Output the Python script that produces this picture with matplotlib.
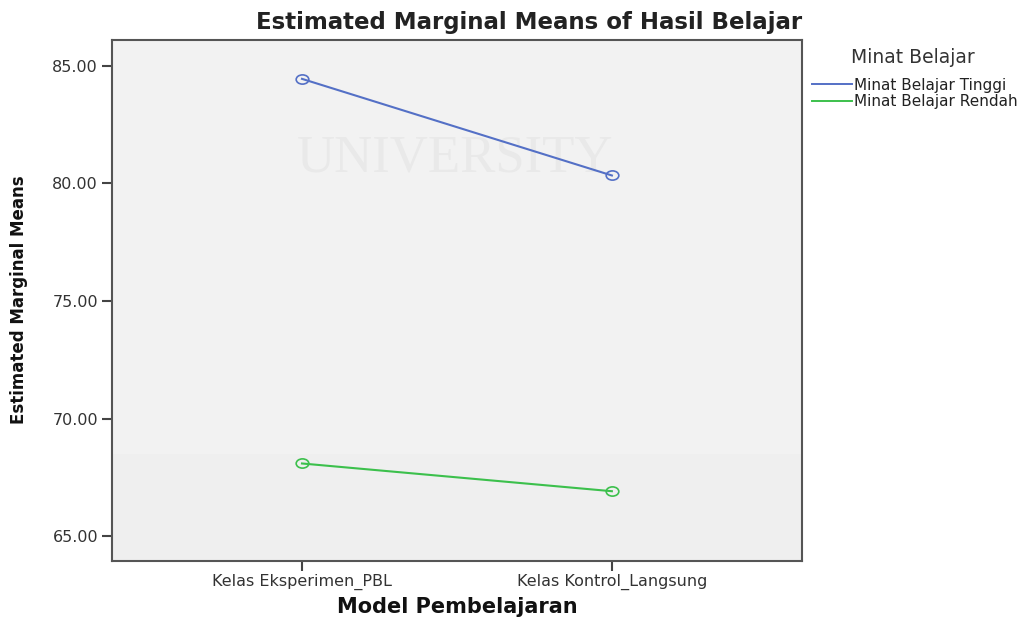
import matplotlib
matplotlib.use('Agg')
import matplotlib.pyplot as plt
from matplotlib.lines import Line2D
from matplotlib.markers import MarkerStyle
from matplotlib.transforms import Affine2D

plt.rcParams['font.family'] = ['DejaVu Sans']

# data
categories = ['Kelas Eksperimen_PBL', 'Kelas Kontrol_Langsung']
series_names = ['Minat Belajar Tinggi', 'Minat Belajar Rendah']
tinggi = [84.45, 80.34]
rendah = [68.09, 66.91]
y_ticks = [65, 70, 75, 80, 85]

colours = ['#5470c6', '#3cc04c']

fig = plt.figure(figsize=(10.22, 6.22), dpi=100)
ax = fig.add_axes([0.1096, 0.098, 0.675, 0.8376])
ax.set_facecolor('#f2f2f2')
ax.axhspan(60, 68.5, color='#efefef', lw=0, zorder=0)

# faint watermark from the source image, kept behind the lines
ax.text(0.445, 0.745, 'UNIVERSITY', fontsize=38, family='Liberation Serif',
        color='#e9e9e9', ha='center', va='center', zorder=0.5,
        transform=fig.transFigure)

oval = MarkerStyle('o', transform=Affine2D().scale(1.3, 0.95))
x = list(range(len(categories)))
for vals, name, c in zip([tinggi, rendah], series_names, colours):
    ax.plot(x, vals, color=c, lw=1.5, marker=oval, markersize=7,
            markerfacecolor='none', markeredgecolor=c, markeredgewidth=1.2,
            label=name, zorder=3)

ax.set_xlim(-0.613, 1.613)
ax.set_ylim(63.94, 86.1)
ax.set_xticks(x)
ax.set_xticklabels(categories, fontsize=11.5, color='#333333')
ax.set_yticks(y_ticks)
ax.set_yticklabels([f'{v:.2f}' for v in y_ticks], fontsize=11.5, color='#333333')
ax.tick_params(axis='both', direction='out', length=7, width=1.5, color='#444444', pad=3)
ax.tick_params(axis='x', pad=2)

for s in ax.spines.values():
    s.set_color('#555555')
    s.set_linewidth(1.5)

fig.text(0.518, 0.964, 'Estimated Marginal Means of Hasil Belajar', fontsize=16.5,
         fontweight='bold', color='#222222', ha='center', va='center')
fig.text(0.447, 0.024, 'Model Pembelajaran', fontsize=15, fontweight='bold',
         color='#111111', ha='center', va='center')
fig.text(0.019, 0.518, 'Estimated Marginal Means', fontsize=12, fontweight='bold',
         color='#111111', ha='center', va='center', rotation=90)

handles = [Line2D([0], [0], color=c, lw=1.4) for c in colours]
fig.text(0.893, 0.907, 'Minat Belajar', fontsize=13.5, color='#333333',
         ha='center', va='center')
leg = fig.legend(handles, series_names, loc='upper left', bbox_to_anchor=(0.789, 0.885),
                 frameon=False, fontsize=11, handlelength=2.6, handletextpad=0.1,
                 labelspacing=0.1, borderaxespad=0)
for t in leg.get_texts():
    t.set_color('#222222')

fig.savefig('out.png', dpi=100, facecolor='white')
